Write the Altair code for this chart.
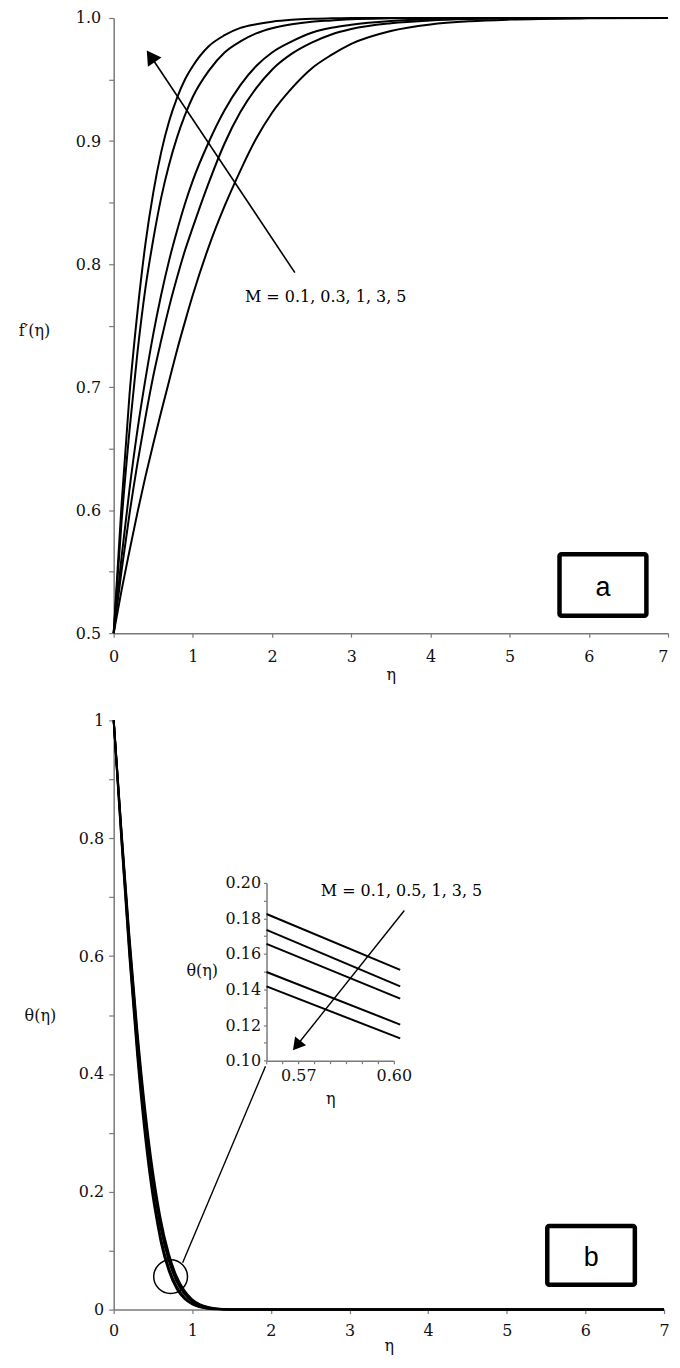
import altair as alt
import pandas as pd

# ---------------- data ----------------
M_top = ["0.1", "0.3", "1", "3", "5"]
eta_top = [0, 0.1, 0.2, 0.3, 0.4, 0.5, 0.6, 0.7, 0.8, 0.9, 1.0, 1.2, 1.4, 1.6, 1.8,
           2.0, 2.25, 2.5, 2.75, 3.0, 3.5, 4.0, 4.5, 5.0, 6.0, 7.0]
fp_M01 = [0.5, 0.535, 0.567, 0.598, 0.627, 0.654, 0.680, 0.705, 0.730, 0.753, 0.775, 0.814, 0.847,
          0.876, 0.902, 0.923, 0.943, 0.959, 0.970, 0.979, 0.9895, 0.9948, 0.9974, 0.9987, 0.9997, 1.0]
fp_M03 = [0.5, 0.551, 0.597, 0.638, 0.675, 0.709, 0.738, 0.765, 0.789, 0.811, 0.830, 0.866, 0.898,
          0.9235, 0.943, 0.958, 0.971, 0.980, 0.9866, 0.991, 0.9957, 0.998, 0.9991, 0.9996, 1.0, 1.0]
fp_M1 = [0.5, 0.562, 0.617, 0.665, 0.706, 0.743, 0.775, 0.803, 0.827, 0.849, 0.868, 0.899, 0.925,
         0.9455, 0.961, 0.972, 0.981, 0.988, 0.992, 0.9945, 0.9975, 0.999, 0.9996, 1.0, 1.0, 1.0]
fp_M3 = [0.5, 0.591, 0.665, 0.728, 0.780, 0.820, 0.854, 0.881, 0.903, 0.921, 0.936, 0.957, 0.972,
         0.981, 0.9875, 0.9917, 0.995, 0.997, 0.998, 0.999, 0.9997, 1.0, 1.0, 1.0, 1.0, 1.0]
fp_M5 = [0.5, 0.605, 0.694, 0.761, 0.816, 0.858, 0.891, 0.916, 0.935, 0.950, 0.961, 0.977, 0.986,
         0.992, 0.995, 0.997, 0.9985, 0.9993, 0.9997, 1.0, 1.0, 1.0, 1.0, 1.0, 1.0, 1.0]

M_bot = ["0.1", "0.5", "1", "3", "5"]
eta_bot = [0, 0.1, 0.2, 0.3, 0.4, 0.5, 0.56, 0.6, 0.7, 0.8, 0.9, 1.0, 1.1, 1.2, 1.3, 1.5, 1.75,
           2.0, 3.0, 4.0, 5.0, 6.0, 7.0]
th_M01 = [1.0, 0.8118, 0.6338, 0.4748, 0.3408, 0.2336, 0.1825, 0.1526, 0.0955, 0.0566, 0.0322,
          0.0173, 0.0089, 0.0044, 0.0020, 0.0004, 0.0001, 0, 0, 0, 0, 0, 0]
th_M05 = [1.0, 0.8079, 0.6267, 0.4658, 0.3308, 0.2241, 0.1736, 0.1433, 0.0887, 0.0518, 0.0290,
          0.0151, 0.0075, 0.0037, 0.0016, 0.0003, 0, 0, 0, 0, 0, 0, 0]
th_M1 = [1.0, 0.8047, 0.6206, 0.4581, 0.3222, 0.2162, 0.1657, 0.1363, 0.0834, 0.0477, 0.0263,
         0.0136, 0.0066, 0.0030, 0.0013, 0.0002, 0, 0, 0, 0, 0, 0, 0]
th_M3 = [1.0, 0.7970, 0.6069, 0.4401, 0.3035, 0.1983, 0.1499, 0.1217, 0.0718, 0.0395, 0.0208,
         0.0102, 0.0047, 0.0020, 0.0009, 0.0001, 0, 0, 0, 0, 0, 0, 0]
th_M5 = [1.0, 0.7926, 0.5990, 0.4302, 0.2928, 0.1887, 0.1418, 0.1140, 0.0655, 0.0354, 0.0182,
         0.0087, 0.0039, 0.0016, 0.0007, 0.0001, 0, 0, 0, 0, 0, 0, 0]

eta_inset = [0.56, 0.602]
thi_M01 = [0.1825, 0.1511]
thi_M05 = [0.1736, 0.1418]
thi_M1 = [0.1657, 0.1349]
thi_M3 = [0.1499, 0.1203]
thi_M5 = [0.1418, 0.1125]

top_x_ticks = [0, 0.5, 1, 1.5, 2, 2.5, 3, 3.5, 4, 4.5, 5, 5.5, 6, 6.5, 7]
top_y_ticks = [0.5, 0.55, 0.6, 0.65, 0.7, 0.75, 0.8, 0.85, 0.9, 0.95, 1.0]
bot_y_ticks = [0, 0.1, 0.2, 0.3, 0.4, 0.5, 0.6, 0.7, 0.8, 0.9, 1.0]
inset_x_ticks = [0.56, 0.565, 0.57, 0.575, 0.58, 0.585, 0.59, 0.595, 0.6]
inset_y_ticks = [0.10, 0.11, 0.12, 0.13, 0.14, 0.15, 0.16, 0.17, 0.18, 0.19, 0.20]

label_top = "M = 0.1, 0.3, 1, 3, 5"
label_bot = "M = 0.1, 0.5, 1, 3, 5"

# annotation anchors, in data units of each panel
top_label_at = [1.658, 0.7734]
top_arrow_tail = [2.288, 0.793]
top_arrow_head = [0.468, 0.9689]
box_a = [5.63, 6.727, 0.5142, 0.5642]
box_a_text_at = [6.178, 0.5366]

bot_label_at = [2.634, 0.711]
circle_at = [0.724, 0.056]
connector = [0.877, 0.0795, 1.931, 0.413]
box_b = [5.515, 6.629, 0.042, 0.142]
box_b_text_at = [6.074, 0.088]
inset_arrow_tail = [0.6033, 0.1845]
inset_arrow_head = [0.5695, 0.1085]

FONT = "DejaVu Serif"
FS = 16
AXC = "#7a7a7a"
TXT = "#111111"
AXF = dict(labelFont=FONT, labelFontSize=FS, labelColor=TXT, titleFont=FONT, titleFontSize=FS,
           titleFontWeight="normal", titleColor=TXT, labelOverlap=False, grid=False,
           domainColor=AXC, domainWidth=1.5, tickColor=AXC, tickWidth=1.2)


def long(eta, series, labels):
    rows = []
    for lab, vals in zip(labels, series):
        for e, v in zip(eta, vals):
            rows.append({"eta": e, "val": v, "M": lab})
    return pd.DataFrame(rows)


df_top = long(eta_top, [fp_M01, fp_M03, fp_M1, fp_M3, fp_M5], M_top)
df_bot = long(eta_bot, [th_M01, th_M05, th_M1, th_M3, th_M5], M_bot)
df_in = long(eta_inset, [thi_M01, thi_M05, thi_M1, thi_M3, thi_M5], M_bot)

# ---------------- top panel ----------------
tx = alt.X("eta:Q", scale=alt.Scale(domain=[0, 7], nice=False, zero=False),
           axis=alt.Axis(values=top_x_ticks, labelExpr="datum.value % 1 == 0 ? format(datum.value, 'd') : ''",
                         title="η", titleY=41, titleBaseline="middle", tickSize=4, labelPadding=11,
                         labelFlush=False,
                         labelAlign={"condition": {"test": "datum.value == 7", "value": "right"},
                                     "value": "center"},
                         **AXF))
ty = alt.Y("val:Q", scale=alt.Scale(domain=[0.5, 1.0], nice=False, zero=False),
           axis=alt.Axis(values=top_y_ticks,
                         labelExpr="round(datum.value*100) % 10 == 0 ? format(datum.value, '.1f') : ''",
                         title="f′(η)", titleAngle=0, titleX=-80, titleY=313, titleAlign="center",
                         titleBaseline="middle", tickSize=5, labelPadding=8, **AXF))

top_lines = alt.Chart(df_top).mark_line(color="black", strokeWidth=2, interpolate="monotone").encode(
    x=tx, y=ty, detail="M:N")

top_arrow_df = pd.DataFrame({"eta": [top_arrow_tail[0]], "val": [top_arrow_tail[1]],
                             "eta2": [top_arrow_head[0]], "val2": [top_arrow_head[1]]})
top_arrow = alt.Chart(top_arrow_df).mark_rule(color="black", strokeWidth=1.6).encode(
    x="eta:Q", y="val:Q", x2="eta2:Q", y2="val2:Q")
top_head = alt.Chart(pd.DataFrame({"eta": [top_arrow_head[0]], "val": [top_arrow_head[1]]})).mark_point(
    shape="triangle-up", filled=True, color="black", opacity=1, size=270, angle=326).encode(
    x="eta:Q", y="val:Q")
top_text = alt.Chart(pd.DataFrame({"eta": [top_label_at[0]], "val": [top_label_at[1]], "t": [label_top]})).mark_text(
    font=FONT, fontSize=FS, align="left", baseline="middle", color="black").encode(
    x="eta:Q", y="val:Q", text="t:N")
box_a_df = pd.DataFrame({"eta": [box_a[0]], "eta2": [box_a[1]], "val": [box_a[2]], "val2": [box_a[3]]})
top_box = alt.Chart(box_a_df).mark_rect(fill="white", stroke="black", strokeWidth=4.5, cornerRadius=2).encode(
    x="eta:Q", x2="eta2:Q", y="val:Q", y2="val2:Q")
top_box_text = alt.Chart(pd.DataFrame({"eta": [box_a_text_at[0]], "val": [box_a_text_at[1]], "t": ["a"]})).mark_text(
    font="Liberation Sans", fontSize=27, align="center", baseline="middle", color="black").encode(
    x="eta:Q", y="val:Q", text="t:N")

top = alt.layer(top_lines, top_arrow, top_head, top_text, top_box, top_box_text).properties(
    width=556, height=617)

# ---------------- bottom panel ----------------
bx = alt.X("eta:Q", scale=alt.Scale(domain=[0, 7], nice=False, zero=False),
           axis=alt.Axis(values=top_x_ticks, labelExpr="datum.value % 1 == 0 ? format(datum.value, 'd') : ''",
                         title="η", titleY=36, titleBaseline="middle", tickSize=4, labelPadding=9,
                         labelFlush=False, **AXF))
by = alt.Y("val:Q", scale=alt.Scale(domain=[0, 1], nice=False, zero=False),
           axis=alt.Axis(values=bot_y_ticks,
                         labelExpr="round(datum.value*10) % 2 == 0 ? format(datum.value, '~g') : ''",
                         title="θ(η)", titleAngle=0, titleX=-74, titleY=296, titleAlign="center",
                         titleBaseline="middle", tickSize=5, labelPadding=5, **AXF))

bot_lines = alt.Chart(df_bot).mark_line(color="black", strokeWidth=2, interpolate="monotone").encode(
    x=bx, y=by, detail="M:N")
bot_circle = alt.Chart(pd.DataFrame({"eta": [circle_at[0]], "val": [circle_at[1]]})).mark_point(
    shape="circle", filled=False, color="black", strokeWidth=1.5, opacity=1, size=1150).encode(
    x="eta:Q", y="val:Q")
conn_df = pd.DataFrame({"eta": [connector[0]], "val": [connector[1]], "eta2": [connector[2]], "val2": [connector[3]]})
bot_conn = alt.Chart(conn_df).mark_rule(color="black", strokeWidth=1.4).encode(
    x="eta:Q", y="val:Q", x2="eta2:Q", y2="val2:Q")
bot_text = alt.Chart(pd.DataFrame({"eta": [bot_label_at[0]], "val": [bot_label_at[1]], "t": [label_bot]})).mark_text(
    font=FONT, fontSize=FS, align="left", baseline="middle", color="black").encode(
    x="eta:Q", y="val:Q", text="t:N")
box_b_df = pd.DataFrame({"eta": [box_b[0]], "eta2": [box_b[1]], "val": [box_b[2]], "val2": [box_b[3]]})
bot_box = alt.Chart(box_b_df).mark_rect(fill="white", stroke="black", strokeWidth=4.5, cornerRadius=2).encode(
    x="eta:Q", x2="eta2:Q", y="val:Q", y2="val2:Q")
bot_box_text = alt.Chart(pd.DataFrame({"eta": [box_b_text_at[0]], "val": [box_b_text_at[1]], "t": ["b"]})).mark_text(
    font="Liberation Sans", fontSize=27, align="center", baseline="middle", color="black").encode(
    x="eta:Q", y="val:Q", text="t:N")

main_bot = alt.layer(bot_lines, bot_circle, bot_conn, bot_text, bot_box, bot_box_text)

# inset (own scales, placed inside the bottom panel)
ix_scale = alt.Scale(domain=[0.56, 0.60], range=[153.3, 281], nice=False, zero=False)
iy_scale = alt.Scale(domain=[0.10, 0.20], range=[341.3, 163], nice=False, zero=False)
ix = alt.X("eta:Q", scale=ix_scale,
           axis=alt.Axis(orient="bottom", offset=-249.7, values=inset_x_ticks,
                         labelExpr="abs(datum.value-0.57) < 0.0001 || abs(datum.value-0.6) < 0.0001 ? format(datum.value, '.2f') : ''",
                         title="η", titleY=38, titleBaseline="middle", tickSize=3, labelPadding=4,
                         labelFlush=False, **AXF))
iy = alt.Y("val:Q", scale=iy_scale,
           axis=alt.Axis(orient="left", offset=-153.3, values=inset_y_ticks,
                         labelExpr="round(datum.value*100) % 2 == 0 ? format(datum.value, '.2f') : ''",
                         title="θ(η)", titleAngle=0, titleX=-65, titleY=251, titleAlign="center",
                         titleBaseline="middle", tickSize=3, labelPadding=3, **AXF))
in_lines = alt.Chart(df_in).mark_line(color="black", strokeWidth=2).encode(x=ix, y=iy, detail="M:N")
in_arrow_df = pd.DataFrame({"eta": [inset_arrow_tail[0]], "val": [inset_arrow_tail[1]],
                            "eta2": [inset_arrow_head[0]], "val2": [inset_arrow_head[1]]})
in_arrow = alt.Chart(in_arrow_df).mark_rule(color="black", strokeWidth=1.4).encode(
    x=alt.X("eta:Q", scale=ix_scale), y=alt.Y("val:Q", scale=iy_scale),
    x2="eta2:Q", y2="val2:Q")
in_head = alt.Chart(pd.DataFrame({"eta": [inset_arrow_head[0]], "val": [inset_arrow_head[1]]})).mark_point(
    shape="triangle-up", filled=True, color="black", opacity=1, size=200, angle=218.6).encode(
    x=alt.X("eta:Q", scale=ix_scale), y=alt.Y("val:Q", scale=iy_scale))
inset = alt.layer(in_lines, in_arrow, in_head)

bottom = alt.layer(main_bot, inset).resolve_scale(x="independent", y="independent").properties(
    width=552, height=591)

chart = alt.vconcat(top, bottom, spacing=87.5, bounds="flush").properties(
    padding={"left": 10, "top": 0, "right": 0, "bottom": 0}
).configure_view(strokeWidth=0)

chart.save("out.html", embed_options={"renderer": "svg", "actions": False})
